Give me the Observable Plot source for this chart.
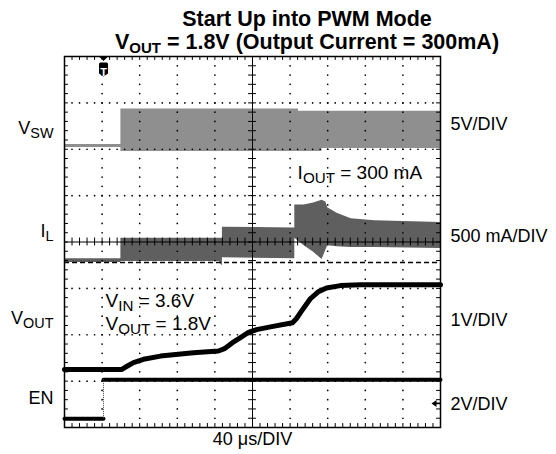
<!DOCTYPE html>
<html><head><meta charset="utf-8">
<script src="https://cdn.jsdelivr.net/npm/d3@7"></script>
<script src="https://cdn.jsdelivr.net/npm/@observablehq/plot@0.6"></script>
<style>
html,body{margin:0;padding:0;background:#fff;}
body{width:556px;height:454px;overflow:hidden;font-family:"Liberation Sans",Arial,Helvetica,sans-serif;}
#title{box-sizing:border-box;height:54px;padding:8px 0 0 58px;text-align:center;font-weight:bold;font-size:21.5px;line-height:23px;color:#000;white-space:nowrap;overflow:visible;}
#title sub{font-size:15px;vertical-align:-4px;line-height:0;}
#chart svg{display:block;}
</style></head><body>
<div id="title">Start Up into PWM Mode<br>V<sub>OUT</sub> = 1.8V (Output Current = 300mA)</div>
<div id="chart"></div>
<script>
// ---- time base: µs, trigger at 0, 40 µs/DIV, 10 DIV across; 8 DIV tall ----
const timeDomain = [-40, 360];
const divDomain = [0, 8];
const triggerTime = 1.5;

// ---- channels ----
const channelNames  = ["V_{SW}", "I_{L}", "V_{OUT}", "EN"];
const channelScales = ["5V/DIV", "500 mA/DIV", "1V/DIV", "2V/DIV"];
const channelPerDiv = [5, 0.5, 1, 2];          // units per DIV
const channelGround = [6.07, 3.56, 1.25, 0.19]; // ground level, DIV from bottom

// ---- V_SW switching band (V) ----
const vswTime = [-40, 20, 20, 209, 209, 234, 234, 360];
const vswHigh = [0.16, 0.16, 4.0, 4.0, 3.75, 3.75, 3.75, 3.75];
const vswLow  = [-0.16, -0.16, -0.59, -0.59, -0.59, -0.59, -0.27, -0.27];

// ---- I_L ripple band (A) ----
const ilTime = [-40, 20, 20, 125, 127, 128, 128, 205, 205, 215, 225, 234, 238, 240, 250, 265, 290, 360];
const ilHigh = [0.04, 0.04, 0.26, 0.26, 0.26, 0.26, 0.38, 0.37, 0.62, 0.62, 0.64, 0.67, 0.65, 0.59, 0.53, 0.47, 0.45, 0.43];
const ilLow  = [0.0, 0.0, 0.01, 0.01, -0.03, -0.03, 0.05, 0.04, 0.26, 0.18, 0.11, 0.03, 0.13, 0.18, 0.17, 0.16, 0.16, 0.15];

// ---- V_OUT (V) ----
const voutTime  = [-40, 20.6, 26, 33.4, 44, 62.1, 97.2, 123.8, 130.2, 138.7, 147.2, 155.7, 164.3, 179.1, 202.6, 206.8, 213.2, 221.7, 230.2, 238.7, 253.6, 274.9, 360];
const voutLevel = [0, 0, 0.065, 0.15, 0.22, 0.29, 0.36, 0.40, 0.45, 0.58, 0.69, 0.80, 0.86, 0.92, 1.01, 1.10, 1.29, 1.53, 1.68, 1.76, 1.81, 1.83, 1.83];

// ---- EN (V) ----
const enTime  = [-40, 1.5, 1.5, 360];
const enLevel = [0, 0, 1.68, 1.68];
const enMarkerLevel = 0.52; // DIV, right-edge channel marker

// ---- annotation texts ----
const noteTexts = ["V_{IN} = 3.6V", "V_{OUT} = 1.8V", "I_{OUT} = 300 mA"];
const timebaseLabel = "40 μs/DIV";

// ---- build tables ----
const toDiv = (ch, v) => channelGround[ch] + v / channelPerDiv[ch];
const vswData  = vswTime.map((t, i) => ({t, lo: toDiv(0, vswLow[i]), hi: toDiv(0, vswHigh[i])}));
const ilData   = ilTime.map((t, i) => ({t, lo: toDiv(1, ilLow[i]), hi: toDiv(1, ilHigh[i])}));
const voutData = voutTime.map((t, i) => ({t, y: toDiv(2, voutLevel[i])}));
const enData   = enTime.map((t, i) => ({t, y: toDiv(3, enLevel[i]), seg: enLevel[i] > 0 ? "hi" : "lo"}));
const enEdges  = enTime.slice(1).map((t, i) => ({t, y1: toDiv(3, enLevel[i]), y2: toDiv(3, enLevel[i + 1]), same: t === enTime[i]})).filter(d => d.same);

// graticule
const usPerDiv = (timeDomain[1] - timeDomain[0]) / 10;
const minorX = d3.range(0, 51).map(k => timeDomain[0] + k * usPerDiv / 5);
const minorY = d3.range(0, 41).map(k => k * 0.2);
const majorX = d3.range(1, 10).filter(k => k !== 5).map(k => timeDomain[0] + k * usPerDiv);
const majorY = [1, 2, 3, 5, 6, 7];
const centerX = timeDomain[0] + 5 * usPerDiv;
const centerY = 4;
const dotsV = majorX.flatMap(x => minorY.slice(1, -1).map(y => ({x, y})));
const dotsH = majorY.flatMap(y => minorX.slice(1, -1).map(x => ({x, y})));
const tickLenY = 0.085, tickLenX = 4.2;

const triggerSymbol = {draw(c) {
  c.moveTo(-4.5, 0); c.lineTo(4.5, 0); c.lineTo(0, 4.5); c.closePath();
  c.moveTo(-3, 6); c.lineTo(3, 6); c.quadraticCurveTo(4.5, 6, 4.5, 7.5);
  c.lineTo(4.5, 17); c.lineTo(0, 20); c.lineTo(-4.5, 17); c.lineTo(-4.5, 7.5);
  c.quadraticCurveTo(-4.5, 6, -3, 6); c.closePath();
}};
const arrowSymbol = {draw(c) {
  c.moveTo(0, -3.5); c.lineTo(-5, 0); c.lineTo(0, 3.5); c.closePath();
  c.moveTo(0, -0.8); c.lineTo(4, -0.8); c.lineTo(4, 0.8); c.lineTo(0, 0.8); c.closePath();
}};

const labelLeftY  = [6.45, 4.23, 2.35, 0.64];
const labelRightY = [6.54, 4.13, 2.31, 0.51];
const idx = d3.range(channelNames.length);

const plot = Plot.plot({
  width: 556, height: 400,
  marginLeft: 64, marginRight: 116, marginTop: 2, marginBottom: 27,
  x: {domain: timeDomain, axis: null},
  y: {domain: divDomain, axis: null},
  style: {fontFamily: '"Liberation Sans", Arial, Helvetica, sans-serif', background: "white", overflow: "visible"},
  marks: [
    // traces
    Plot.areaY(vswData, {x: "t", y1: "lo", y2: "hi", fill: "#8f8f8f"}),
    Plot.areaY(ilData, {x: "t", y1: "lo", y2: "hi", fill: "#5f5f5f"}),
    Plot.line(voutData, {x: "t", y: "y", stroke: "black", strokeWidth: 5, strokeLinejoin: "round"}),
    Plot.line(enData, {x: "t", y: "y", z: "seg", stroke: "black", strokeWidth: 4}),
    Plot.ruleX(enEdges, {x: "t", y1: "y1", y2: "y2", stroke: "#444", strokeWidth: 1, strokeDasharray: "1,1"}),
    // graticule
    Plot.dot(dotsV, {x: "x", y: "y", r: 0.85, fill: "black", stroke: "none"}),
    Plot.dot(dotsH, {x: "x", y: "y", r: 0.85, fill: "black", stroke: "none"}),
    Plot.ruleX([centerX], {stroke: "black", strokeWidth: 1}),
    Plot.ruleY([centerY], {stroke: "black", strokeWidth: 1}),
    Plot.ruleX(minorX, {x: d => d, y1: centerY - tickLenY, y2: centerY + tickLenY, stroke: "black", strokeWidth: 1}),
    Plot.ruleY(minorY, {y: d => d, x1: centerX - tickLenX, x2: centerX + tickLenX, stroke: "black", strokeWidth: 1}),
    Plot.ruleX(minorX, {x: d => d, y1: divDomain[0], y2: divDomain[0] + tickLenY, stroke: "black", strokeWidth: 1}),
    Plot.ruleX(minorX, {x: d => d, y1: divDomain[1] - tickLenY, y2: divDomain[1], stroke: "black", strokeWidth: 1}),
    Plot.ruleY(minorY, {y: d => d, x1: timeDomain[0], x2: timeDomain[0] + tickLenX, stroke: "black", strokeWidth: 1}),
    Plot.ruleY(minorY, {y: d => d, x1: timeDomain[1] - tickLenX, x2: timeDomain[1], stroke: "black", strokeWidth: 1}),
    Plot.ruleY([channelGround[1]], {stroke: "black", strokeWidth: 1.5, strokeDasharray: "5,3"}),
    Plot.frame({stroke: "black", strokeWidth: 1.5}),
    // markers
    Plot.dot([triggerTime], {x: d => d, frameAnchor: "top", symbol: triggerSymbol, r: 1, fill: "black", stroke: "none"}),
    Plot.text(["T"], {x: () => triggerTime, frameAnchor: "top", dy: 12, fill: "white", fontSize: 11, fontWeight: "bold"}),
    Plot.dot([enMarkerLevel], {y: d => d, frameAnchor: "right", dx: -4, symbol: arrowSymbol, r: 1, fill: "black", stroke: "none"}),
    // labels
    Plot.text(idx, {y: i => labelLeftY[i], text: i => channelNames[i], frameAnchor: "left", textAnchor: "end", dx: -11, fontSize: 18, fill: "black"}),
    Plot.text(idx, {y: i => labelRightY[i], text: i => channelScales[i], frameAnchor: "right", textAnchor: "start", dx: 10, fontSize: 18, fill: "black"}),
    Plot.text([0], {x: () => 3.6, y: () => 2.72, text: () => noteTexts[0], textAnchor: "start", fontSize: 19, fill: "black"}),
    Plot.text([0], {x: () => 3.6, y: () => 2.24, text: () => noteTexts[1], textAnchor: "start", fontSize: 19, fill: "black"}),
    Plot.text([0], {x: () => 208, y: () => 5.49, text: () => noteTexts[2], textAnchor: "start", fontSize: 19, fill: "black"}),
    Plot.text([timebaseLabel], {frameAnchor: "bottom", dy: 17, fontSize: 18, fill: "black"})
  ]
});

// subscript post-processing: "X_{sub}" -> tspans
const NS = "http://www.w3.org/2000/svg";
plot.querySelectorAll("text").forEach(t => {
  const spans = t.querySelectorAll("tspan");
  const nodes = spans.length ? [...spans] : [t];
  nodes.forEach(node => {
    const s = node.textContent;
    if (!s.includes("_{")) return;
    node.textContent = "";
    const parts = s.split(/_\{([^}]*)\}/);
    parts.forEach((p, i) => {
      const ts = document.createElementNS(NS, "tspan");
      ts.textContent = p;
      if (i % 2 === 1) { ts.style.fontSize = "0.8em"; ts.setAttribute("dy", "4"); }
      else if (i > 0) ts.setAttribute("dy", "-4");
      if (p || i % 2 === 0) node.appendChild(ts);
    });
  });
});
document.getElementById("chart").appendChild(plot);
</script></body></html>
